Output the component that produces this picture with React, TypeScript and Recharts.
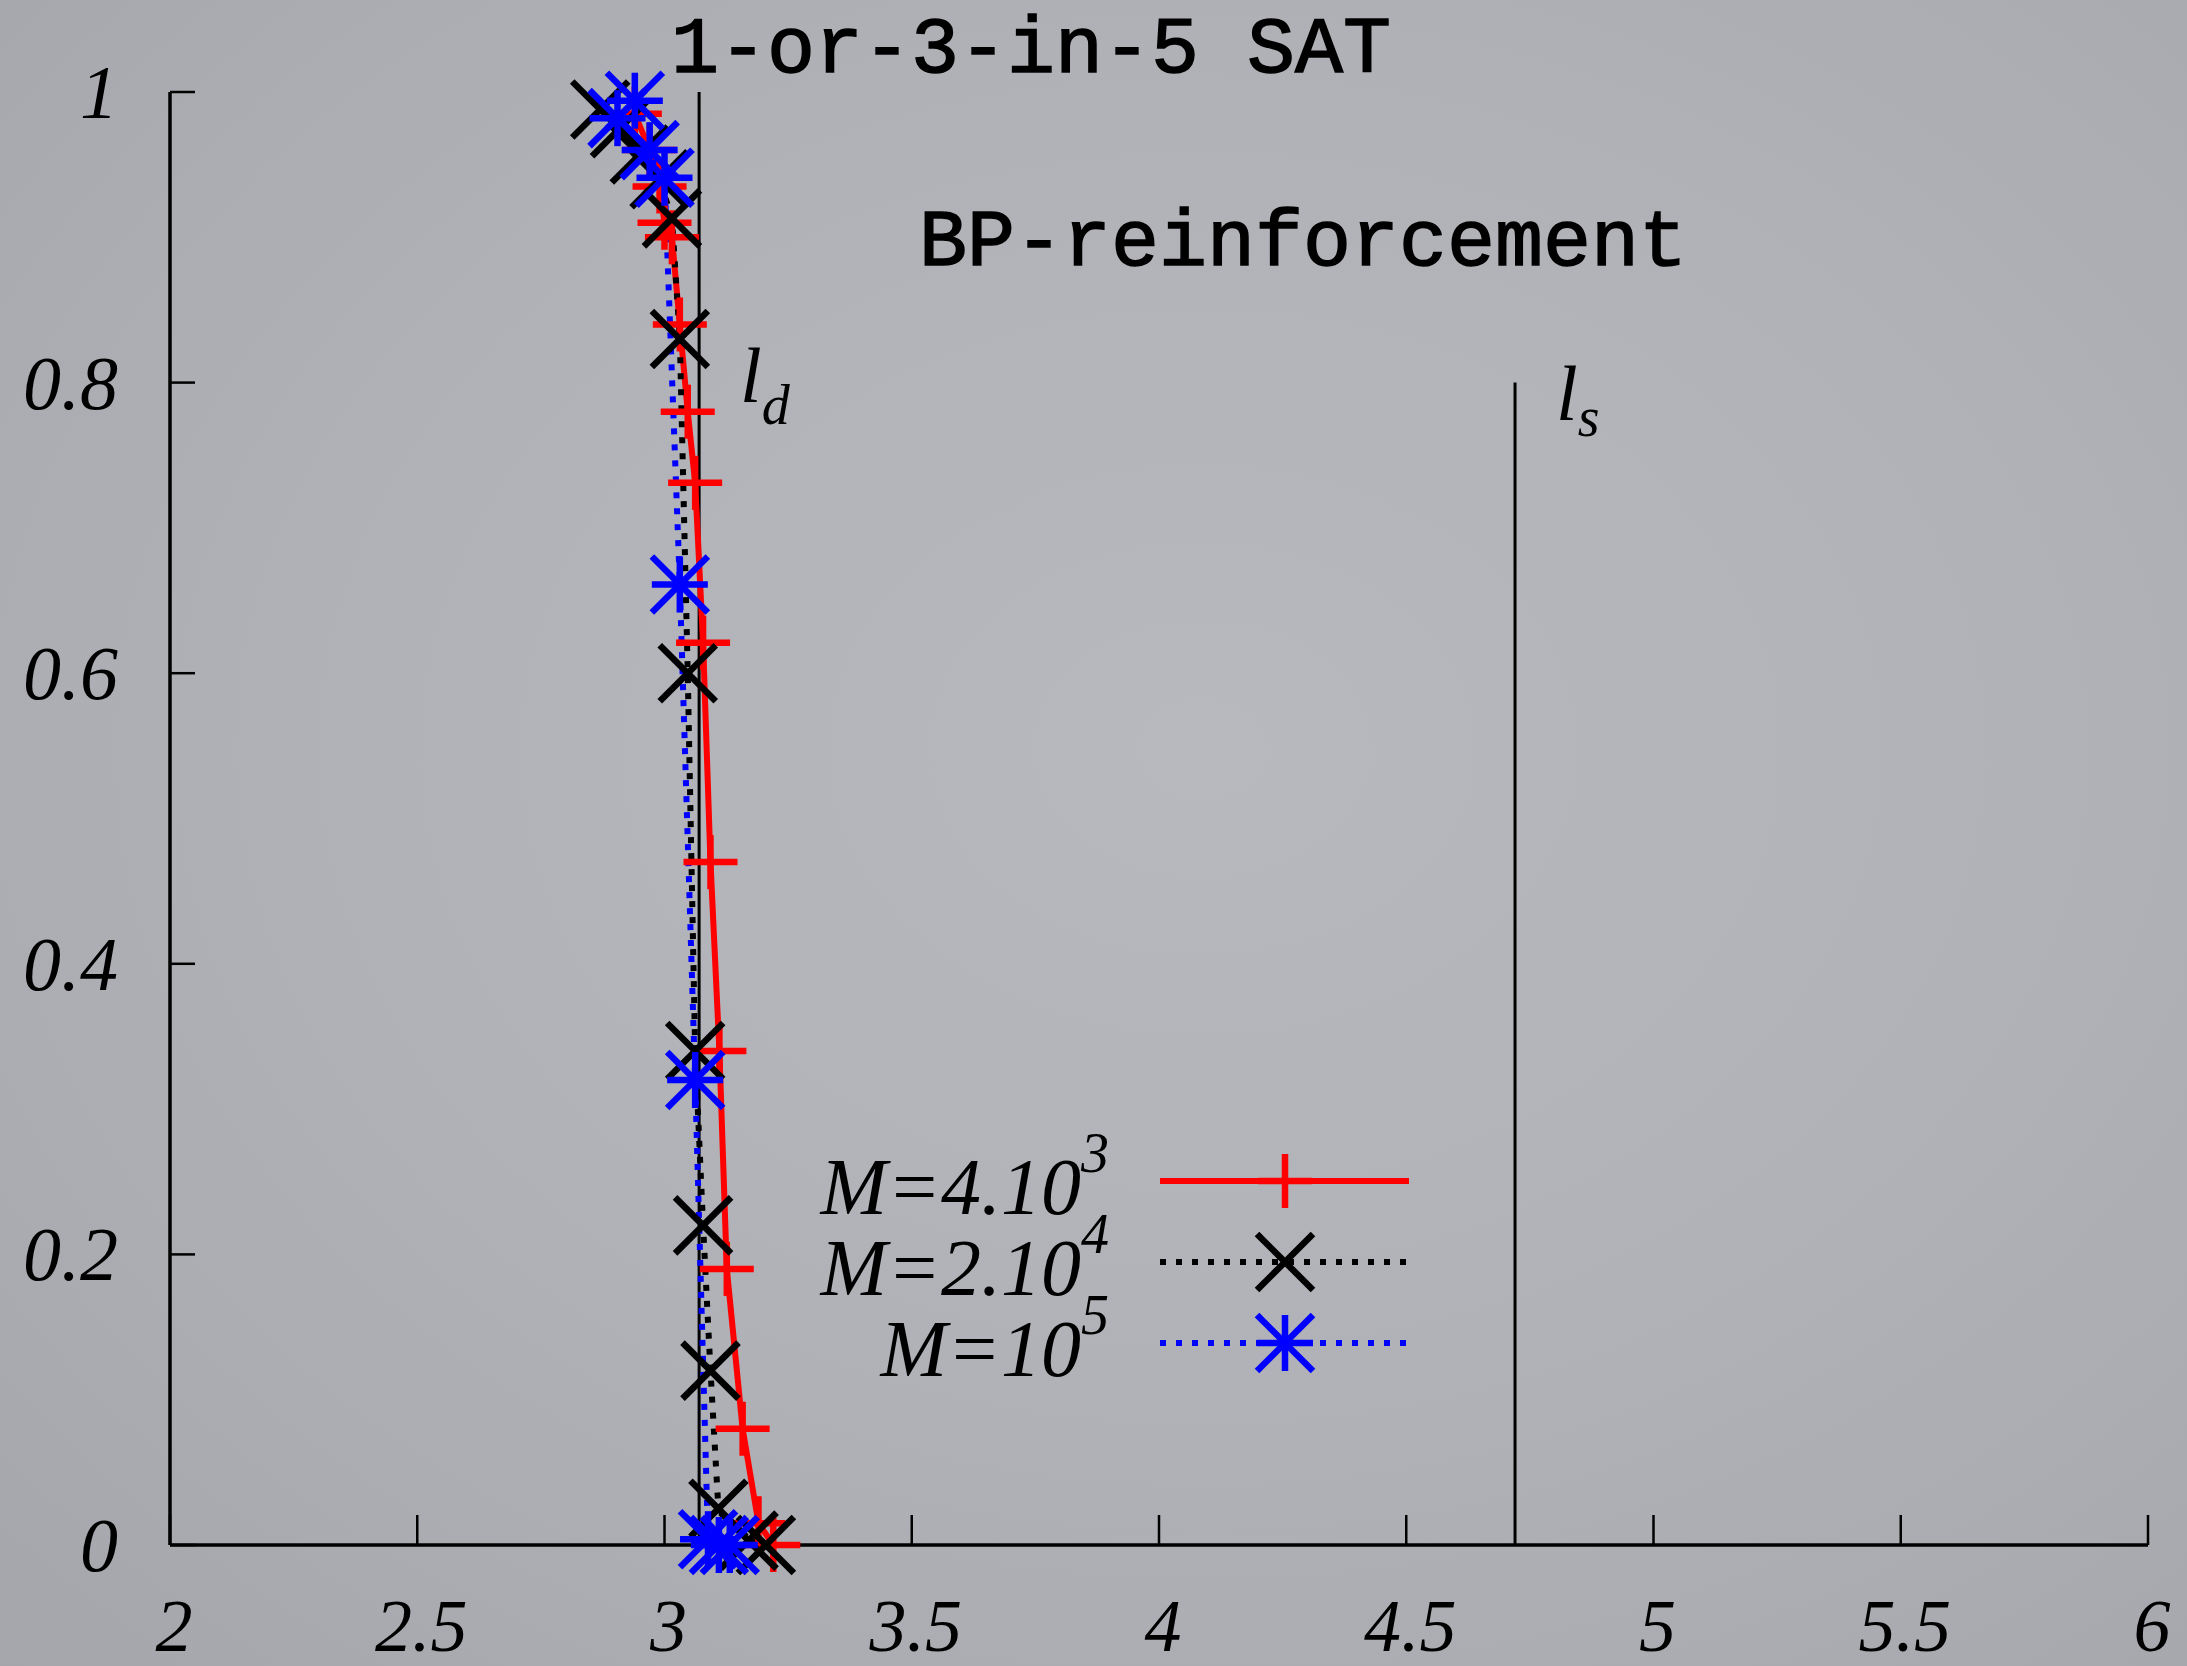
import React from "react"
import { LineChart, Line, XAxis, YAxis, ReferenceLine } from "recharts"

const W = 2187
const H = 1666

// axis ticks
const xTicks = [2, 2.5, 3, 3.5, 4, 4.5, 5, 5.5, 6]
const yTicks = [0, 0.2, 0.4, 0.6, 0.8, 1]

// threshold lines
const ldX = 3.07
const lsX = 4.72
const lsTop = 0.8

// M = 4.10^3 (red, solid, +)
const redX = [2.94, 2.97, 2.99, 3.0, 3.015, 3.031, 3.047, 3.062, 3.078, 3.093, 3.111, 3.126, 3.158, 3.19, 3.22]
const redY = [0.985, 0.96, 0.935, 0.91, 0.9, 0.84, 0.78, 0.731, 0.621, 0.47, 0.34, 0.19, 0.08, 0.015, 0.0]

// M = 2.10^4 (black, dotted, x)
const blackX = [2.87, 2.91, 2.95, 2.99, 3.015, 3.031, 3.047, 3.062, 3.078, 3.093, 3.109, 3.17, 3.205]
const blackY = [0.988, 0.975, 0.957, 0.94, 0.913, 0.83, 0.6, 0.34, 0.22, 0.12, 0.025, 0.003, 0.0]

// M = 10^5 (blue, dotted, *)
const blueX = [2.94, 2.905, 2.97, 3.0, 3.031, 3.062, 3.088, 3.11, 3.132]
const blueY = [0.994, 0.982, 0.96, 0.941, 0.661, 0.32, 0.004, 0.0, 0.0]

const toPoints = (xs: number[], ys: number[]) => xs.map((x, i) => ({ x, y: ys[i] }))

const redData = toPoints(redX, redY)
const blackData = toPoints(blackX, blackY)
const blueData = toPoints(blueX, blueY)

const SERIF = "'Liberation Serif', 'DejaVu Serif', serif"
const MONO = "'Liberation Mono', 'DejaVu Sans Mono', monospace"

type Shape = "plus" | "cross" | "star"

function marker(shape: Shape, cx: number, cy: number, color: string, key?: string | number) {
  const h = shape === "plus" ? 27 : 28
  const sw = 6.5
  const plus = (
    <>
      <line x1={cx - h} y1={cy} x2={cx + h} y2={cy} stroke={color} strokeWidth={sw} />
      <line x1={cx} y1={cy - h} x2={cx} y2={cy + h} stroke={color} strokeWidth={sw} />
    </>
  )
  const cross = (
    <>
      <line x1={cx - h} y1={cy - h} x2={cx + h} y2={cy + h} stroke={color} strokeWidth={sw} />
      <line x1={cx - h} y1={cy + h} x2={cx + h} y2={cy - h} stroke={color} strokeWidth={sw} />
    </>
  )
  return (
    <g key={key}>
      {shape !== "cross" && plus}
      {shape !== "plus" && cross}
    </g>
  )
}

const makeDot = (shape: Shape, color: string) => (props: any) => {
  const { cx, cy, index } = props
  if (cx == null || cy == null) return <g key={index} />
  return marker(shape, cx, cy, color, index)
}

const fmt = (v: number) => String(v)

const BottomTick = (props: any) => {
  const { x, y, payload } = props
  return (
    <g>
      <line x1={x} y1={y} x2={x} y2={y - 30} stroke="#000" strokeWidth={2.5} />
      <text x={x + 4} y={y + 106} textAnchor="middle" fontFamily={SERIF} fontStyle="italic" fontSize={74} fill="#000">
        {fmt(payload.value)}
      </text>
    </g>
  )
}

const TopTick = (props: any) => {
  const { x, y } = props
  return <line x1={x} y1={y} x2={x} y2={y + 30} stroke="#000" strokeWidth={2.5} />
}

const LeftTick = (props: any) => {
  const { x, y, payload } = props
  return (
    <g>
      <line x1={x} y1={y} x2={x + 25} y2={y} stroke="#000" strokeWidth={2.5} />
      <text x={x - 52} y={y + 26} textAnchor="end" fontFamily={SERIF} fontStyle="italic" fontSize={76} fill="#000">
        {fmt(payload.value)}
      </text>
    </g>
  )
}

const RightTick = (props: any) => {
  const { x, y } = props
  return <line x1={x} y1={y} x2={x - 25} y2={y} stroke="#000" strokeWidth={2.5} />
}

const legendRows = [
  { base: "M=4.10", sup: "3", color: "#ff0000", dash: undefined, width: 6, shape: "plus" as Shape },
  { base: "M=2.10", sup: "4", color: "#000000", dash: "6 10", width: 6, shape: "cross" as Shape },
  { base: "M=10", sup: "5", color: "#0000ff", dash: "6 10", width: 6, shape: "star" as Shape },
]

export default function App() {
  return (
    <div
      style={{
        position: "absolute",
        left: 0,
        top: 0,
        width: W,
        height: H,
        background: "radial-gradient(ellipse at 55% 45%, #b7b9be 0%, #afb1b6 55%, #a4a6ab 100%)",
        overflow: "hidden",
      }}
    >
      <LineChart width={W} height={H} margin={{ top: 92, right: 39, bottom: 20, left: 20 }}>
        <XAxis
          xAxisId={0}
          type="number"
          dataKey="x"
          domain={[2, 6]}
          ticks={xTicks}
          height={101}
          tickSize={0}
          tickMargin={0}
          tickLine={false}
          tick={<BottomTick />}
          axisLine={{ stroke: "#000", strokeWidth: 3.5 }}
        />
        <XAxis
          xAxisId="top"
          orientation="top"
          type="number"
          dataKey="x"
          domain={[2, 6]}
          ticks={xTicks}
          height={0}
          tickSize={0}
          tickMargin={0}
          tickLine={false}
          tick={<TopTick />}
          axisLine={{ stroke: "#000", strokeWidth: 3.5 }}
        />
        <YAxis
          yAxisId={0}
          type="number"
          dataKey="y"
          domain={[0, 1]}
          ticks={yTicks}
          width={150}
          tickSize={0}
          tickMargin={0}
          tickLine={false}
          tick={<LeftTick />}
          axisLine={{ stroke: "#000", strokeWidth: 3.5 }}
        />
        <YAxis
          yAxisId="right"
          orientation="right"
          type="number"
          dataKey="y"
          domain={[0, 1]}
          ticks={yTicks}
          width={0}
          tickSize={0}
          tickMargin={0}
          tickLine={false}
          tick={<RightTick />}
          axisLine={{ stroke: "#000", strokeWidth: 3.5 }}
        />
        <ReferenceLine x={ldX} stroke="#000" strokeWidth={3} ifOverflow="visible" />
        <ReferenceLine
          segment={[
            { x: lsX, y: 0 },
            { x: lsX, y: lsTop },
          ]}
          stroke="#000"
          strokeWidth={3}
        />
        <Line
          data={redData}
          dataKey="y"
          type="linear"
          stroke="#ff0000"
          strokeWidth={6}
          dot={makeDot("plus", "#ff0000")}
          activeDot={false}
          isAnimationActive={false}
        />
        <Line
          data={blackData}
          dataKey="y"
          type="linear"
          stroke="#000000"
          strokeWidth={6}
          strokeDasharray="6 10"
          dot={makeDot("cross", "#000000")}
          activeDot={false}
          isAnimationActive={false}
        />
        <Line
          data={blueData}
          dataKey="y"
          type="linear"
          stroke="#0000ff"
          strokeWidth={6}
          strokeDasharray="6 10"
          dot={makeDot("star", "#0000ff")}
          activeDot={false}
          isAnimationActive={false}
        />
      </LineChart>

      <svg
        width={W}
        height={H}
        style={{ position: "absolute", left: 0, top: 0, pointerEvents: "none" }}
      >
        <text x={1031} y={72} textAnchor="middle" fontFamily={MONO} fontSize={80} fill="#000" stroke="#000" strokeWidth={1.5}>
          1-or-3-in-5 SAT
        </text>
        <text x={1303} y={265} textAnchor="middle" fontFamily={MONO} fontSize={80} fill="#000" stroke="#000" strokeWidth={1.5}>
          BP-reinforcement
        </text>
        <text x={740} y={402} fontFamily={SERIF} fontStyle="italic" fontSize={78} fill="#000">
          l
          <tspan fontSize={56} dy={22}>
            d
          </tspan>
        </text>
        <text x={1556} y={420} fontFamily={SERIF} fontStyle="italic" fontSize={78} fill="#000">
          l
          <tspan fontSize={56} dy={16}>
            s
          </tspan>
        </text>
        {legendRows.map((r, i) => {
          const ly = 1181 + i * 81
          return (
            <g key={r.base + r.sup}>
              <text x={1109} y={ly + 33} textAnchor="end" fontFamily={SERIF} fontStyle="italic" fontSize={80} fill="#000">
                {r.base}
                <tspan fontSize={56} dy={-42}>
                  {r.sup}
                </tspan>
              </text>
              <line x1={1160} y1={ly} x2={1409} y2={ly} stroke={r.color} strokeWidth={r.width} strokeDasharray={r.dash} />
              {marker(r.shape, 1285, ly, r.color)}
            </g>
          )
        })}
      </svg>
    </div>
  )
}
